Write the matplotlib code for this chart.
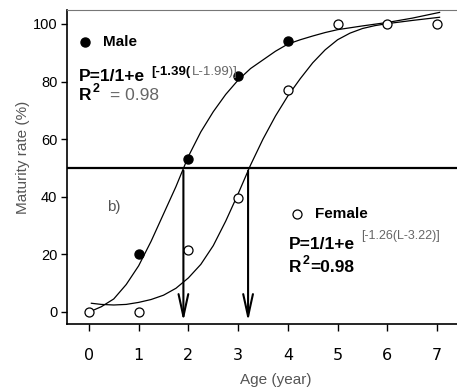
import matplotlib.pyplot as plt

# observed points
age = [0, 1, 2, 3, 4, 5, 6, 7]
male_age = [1, 2, 3, 4]
male_rate = [20, 53, 82, 94]
female_rate = [0, 0, 21.5, 39.5, 77, 100, 100, 100]

# fitted curves
male_curve_x = [0.05, 0.25, 0.5, 0.75, 1, 1.25, 1.5, 1.75, 2, 2.25, 2.5, 2.75, 3,
                3.25, 3.5, 3.75, 4, 4.25, 4.5, 4.75, 5, 5.5, 6, 6.5, 7.05]
male_curve_y = [0.3, 1.8, 4.5, 9.5, 16, 24.5, 34, 43.5, 54, 62.5, 69.5, 75.5, 80.5,
                84.5, 87.5, 90.5, 93, 94.5, 95.8, 97, 98, 99.3, 100.5, 102, 104]
female_curve_x = [0.05, 0.25, 0.5, 0.75, 1, 1.25, 1.5, 1.75, 2, 2.25, 2.5, 2.75, 3,
                  3.25, 3.5, 3.75, 4, 4.25, 4.5, 4.75, 5, 5.25, 5.5, 5.75, 6, 6.5, 7.05]
female_curve_y = [3, 2.6, 2.4, 2.6, 3.3, 4.3, 5.8, 8.2, 11.8, 16.5, 23, 31.5, 41,
                  51, 60, 68, 75, 81, 86.5, 91, 94.5, 96.8, 98.4, 99.4, 100.1, 101.2, 102.3]

# age at 50% maturity
l50 = [1.9, 3.2]

fig = plt.figure(figsize=(4.57, 3.89), dpi=100)
ax = fig.add_axes([67 / 457, 65 / 389, 1 - 67 / 457, 314.5 / 389])

ax.plot(male_curve_x, male_curve_y, color='black', lw=0.9)
ax.plot(female_curve_x, female_curve_y, color='black', lw=0.9)
ax.plot(male_age, male_rate, 'o', color='black', ms=6.5, zorder=3)
ax.plot(age, female_rate, 'o', mfc='white', mec='black', mew=0.9, ms=6.5, zorder=3)

ax.axhline(50, color='black', lw=1.6)
for x in l50:
    ax.annotate('', xy=(x, -4.2), xytext=(x, 50),
                arrowprops=dict(arrowstyle='->,head_length=1.6,head_width=0.35',
                                color='black', lw=1.5))

ax.set_xlim(-0.44, 7.4)
ax.set_ylim(-4.2, 105)
ax.set_xticks(age)
ax.set_yticks([0, 20, 40, 60, 80, 100])
ax.spines['right'].set_visible(False)
ax.spines['top'].set_color('#777777')
ax.spines['top'].set_linewidth(0.8)
ax.spines['left'].set_linewidth(1.2)
ax.spines['bottom'].set_linewidth(1.2)
ax.tick_params(axis='y', length=4, width=1, labelsize=10.5, pad=3)
ax.tick_params(axis='x', length=5, width=1, labelsize=11.5, pad=12)
for t in ax.get_yticklabels():
    t.set_family('Liberation Sans')
for t in ax.get_xticklabels():
    t.set_family('DejaVu Sans')

ax.set_xlabel('Age (year)', family='Liberation Sans', fontsize=11, color='#555555')
ax.xaxis.set_label_coords(0.536, -0.155)
ax.set_ylabel('Maturity rate (%)', family='Liberation Sans', fontsize=11, color='#555555')
ax.yaxis.set_label_coords(-0.095, 0.53)

f = 'Liberation Sans'
# male annotation
ax.plot(-0.08, 93.7, 'o', color='black', ms=6.5, clip_on=False)
ax.text(0.28, 93.7, 'Male', family=f, fontsize=11, fontweight='bold', va='center')
ax.text(-0.2, 81.8, 'P=1/1+e', family=f, fontsize=12.5, fontweight='bold', va='center')
ax.text(1.25, 83.4, '[-1.39(', family=f, fontsize=9.5, fontweight='bold', va='center')
ax.text(2.07, 83.4, 'L-1.99)]', family=f, fontsize=9.5, color='#666666', va='center')
ax.text(-0.2, 75.0, 'R', family=f, fontsize=12.5, fontweight='bold', va='center')
ax.text(0.08, 77.3, '2', family=f, fontsize=9, fontweight='bold', va='center')
ax.text(0.42, 75.0, '= 0.98', family=f, fontsize=12.5, color='#666666', va='center')

ax.text(0.36, 36.5, 'b)', family=f, fontsize=11, color='#555555', va='center')

# female annotation
ax.plot(4.18, 34, 'o', mfc='white', mec='black', mew=0.9, ms=6.5)
ax.text(4.55, 34, 'Female', family=f, fontsize=11, fontweight='bold', va='center')
ax.text(4.02, 23.3, 'P=1/1+e', family=f, fontsize=12.5, fontweight='bold', va='center')
ax.text(5.48, 26.5, '[-1.26(L-3.22)]', family=f, fontsize=9, color='#666666', va='center')
ax.text(4.02, 15.5, 'R', family=f, fontsize=12.5, fontweight='bold', va='center')
ax.text(4.3, 17.8, '2', family=f, fontsize=9, fontweight='bold', va='center')
ax.text(4.46, 15.5, '=0.98', family=f, fontsize=12.5, fontweight='bold', va='center')

fig.savefig('out.png', dpi=100)
